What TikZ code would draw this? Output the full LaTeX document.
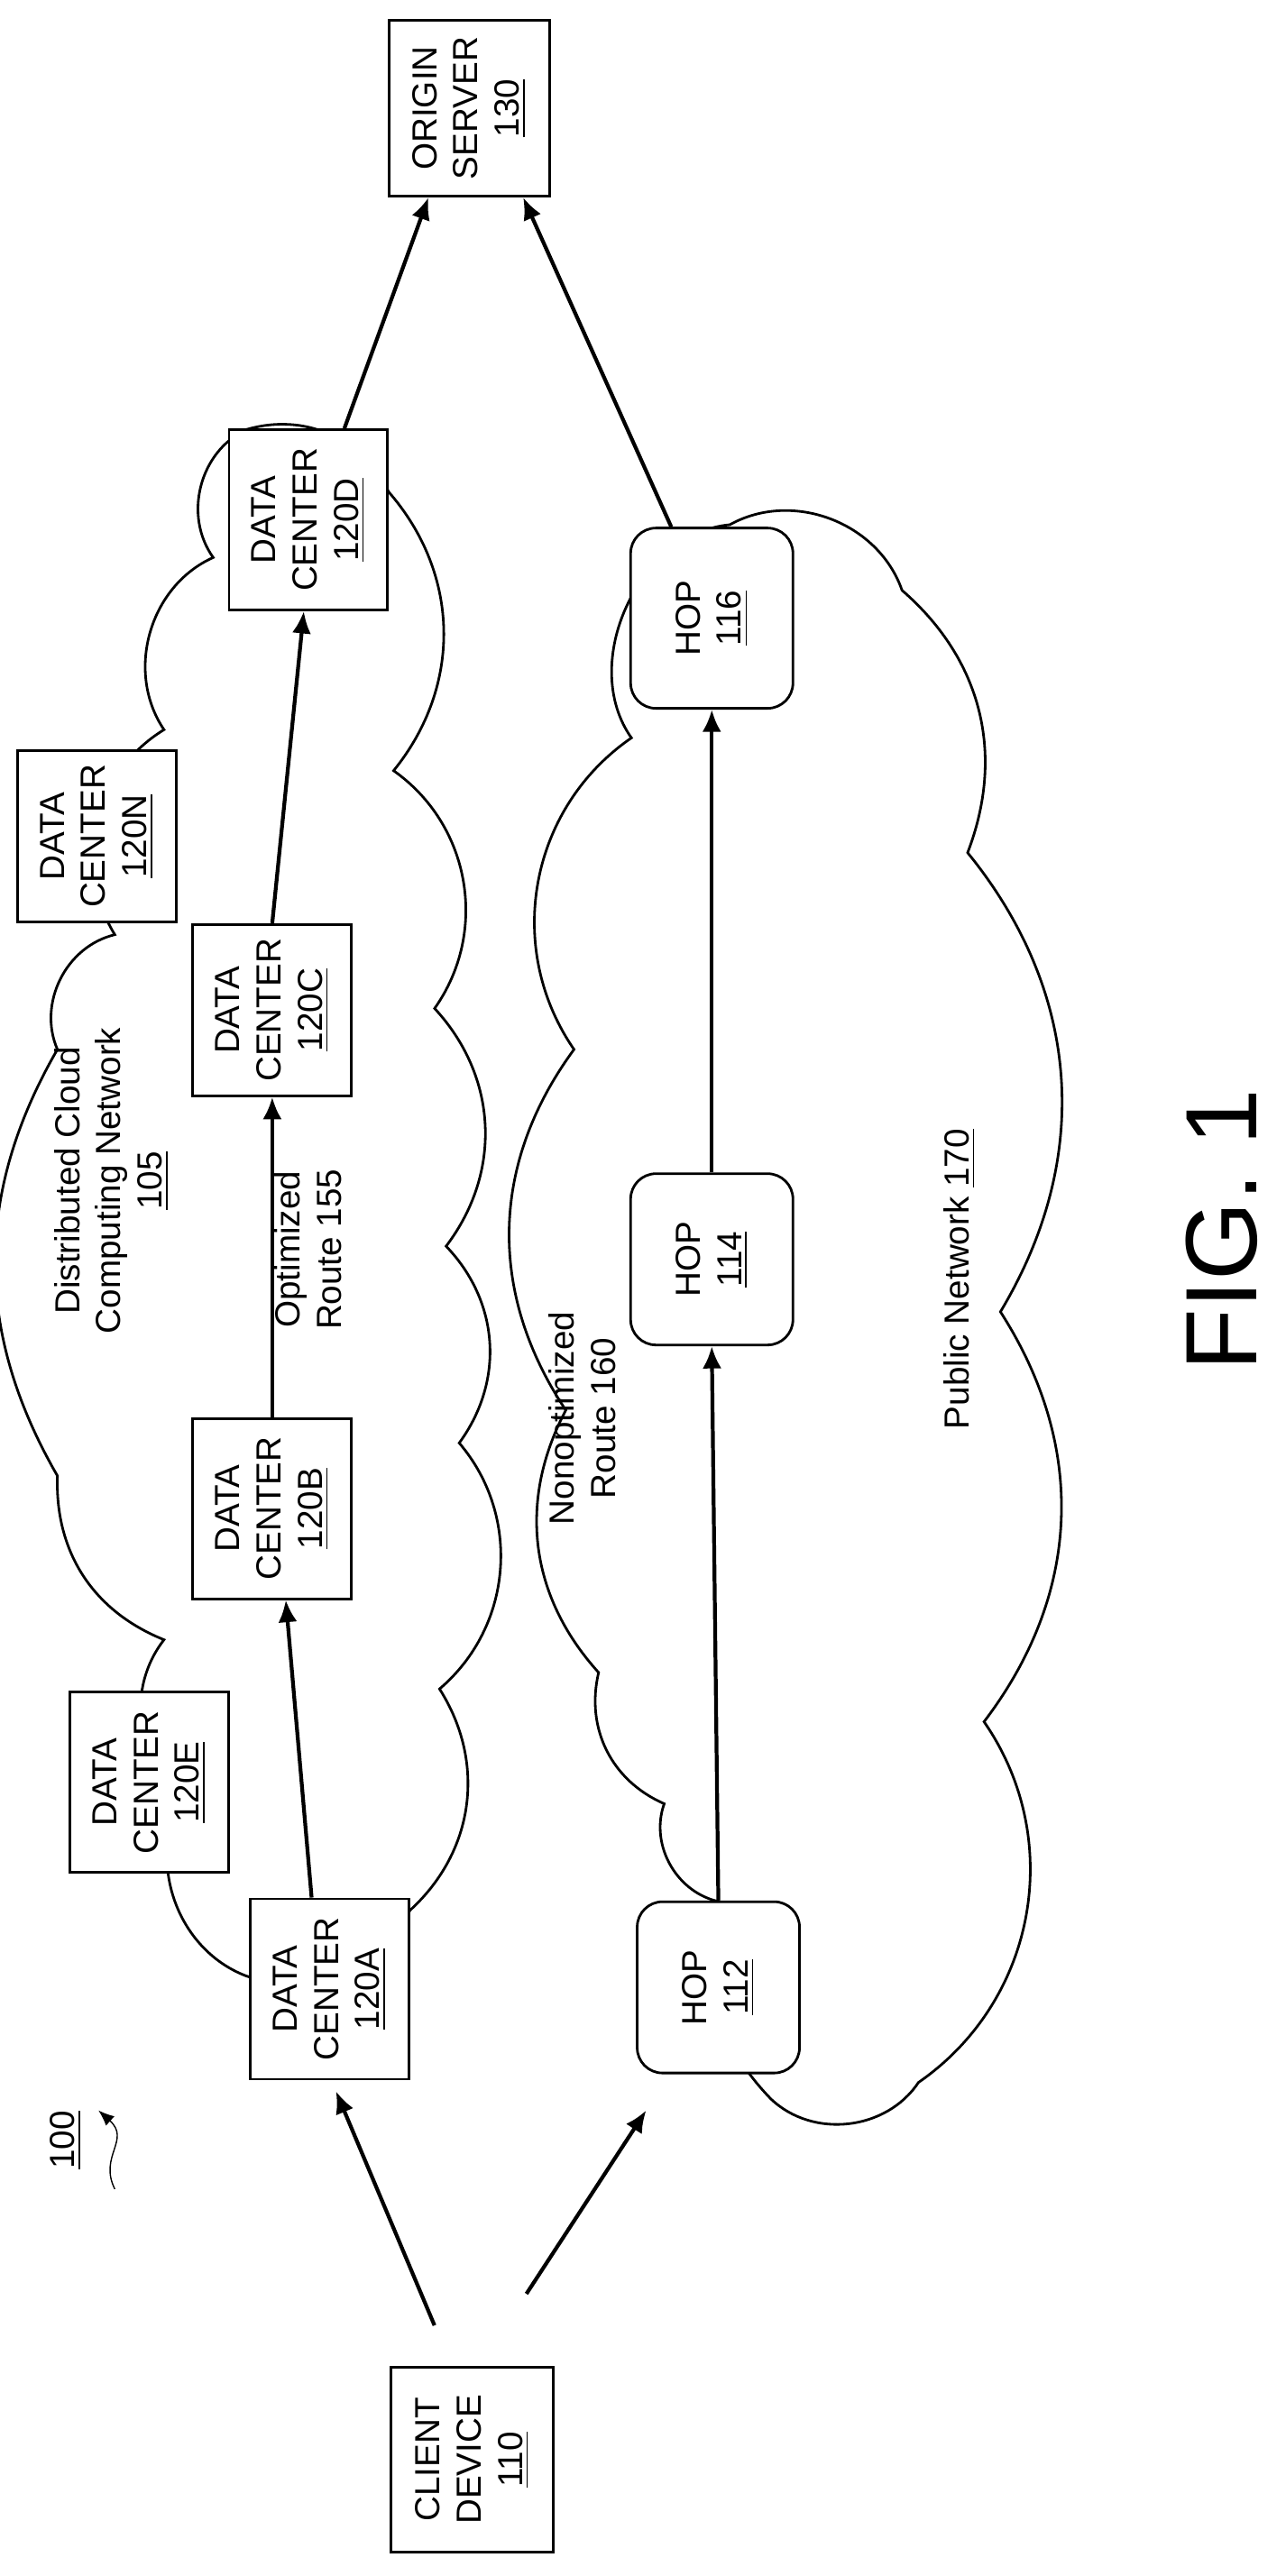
\documentclass[tikz,border=0pt]{standalone}
\usepackage{fontspec}
\setmainfont{Liberation Sans}
\usetikzlibrary{positioning,arrows.meta}
\tikzset{>=latex}
\tikzstyle{box}=[draw, thick, fill=white, rotate=90, align=center, font=\fontsize{11}{13}\selectfont, inner sep=2pt]
\tikzstyle{center}=[box, minimum width=2.0cm, minimum height=1.76cm]
\tikzstyle{hop}=[box, rounded corners=8pt, minimum width=1.9cm, minimum height=1.8cm]
\tikzstyle{connect arrow}=[-{Latex[length=7,width=6]},very thick]
\tikzstyle{label}=[rotate=90, align=center, font=\fontsize{11}{13}\selectfont]
\newcommand{\dc}[1]{DATA\\CENTER\\\underline{#1}}
\begin{document}
\begin{tikzpicture}[x=0.01819cm, y=-0.01819cm]
\useasboundingbox (0,0) rectangle (784,1571);

% clouds
\draw[thick] (150,1205) to[bend left=50] (112,1095) to[bend left=45] (100,1000)
  to[bend left=35] (35,900) to[bend left=30] (35,640) to[bend left=50] (70,570)
  to[bend left=45] (100,445) to[bend left=50] (130,340) to[bend left=50] (150,262)
  to[bend left=40] (237,300) to[bend left=40] (240,470) to[bend left=45] (265,615)
  to[bend left=40] (272,760) to[bend left=40] (280,880) to[bend left=45] (268,1030)
  to[bend left=40] (250,1165) to[bend left=40] (150,1205);
\draw[thick] (440,1160) to[bend left=50] (405,1100) to[bend left=40] (365,1020)
  to[bend left=35] (345,860) to[bend left=35] (350,640) to[bend left=45] (385,450)
  to[bend left=60] (445,320) to[bend left=50] (550,360) to[bend left=35] (590,520)
  to[bend left=35] (610,800) to[bend left=35] (600,1050) to[bend left=45] (560,1270)
  to[bend left=50] (470,1280) to[bend left=30] (440,1160);

% nodes
\node[box, minimum width=2.05cm, minimum height=1.8cm] (client) at (288,1500) {CLIENT\\DEVICE\\\underline{110}};
\node[box, minimum width=1.95cm, minimum height=1.78cm] (origin) at (286,66) {ORIGIN\\SERVER\\\underline{130}};
\node[center] (dcA) at (201,1213) {\dc{120A}};
\node[center] (dcE) at (91,1087) {\dc{120E}};
\node[center] (dcB) at (166,920) {\dc{120B}};
\node[center, minimum width=1.9cm] (dcN) at (59,510) {\dc{120N}};
\node[center, minimum width=1.9cm] (dcC) at (166,616) {\dc{120C}};
\node[center] (dcD) at (188,317) {\dc{120D}};
\node[hop] (hopA) at (438,1212) {HOP\\\underline{112}};
\node[hop] (hopB) at (434,768) {HOP\\\underline{114}};
\node[hop, minimum width=2.0cm] (hopC) at (434,377) {HOP\\\underline{116}};

% labels
\node[label] (cloudnet) at (68,720) {Distributed Cloud\\Computing Network\\\underline{105}};
\node[label] (optroute) at (188,762) {Optimized\\Route 155};
\node[label] (nonroute) at (355,865) {Nonoptimized\\Route 160};
\node[label] (pubnet) at (585,780) {Public Network \underline{170}};
\node[rotate=90, font=\fontsize{32}{36}\selectfont] (fig) at (745,750) {FIG. 1};
\node[label] (ref) at (40,1305) {\underline{100}};
\coordinate (refa) at (70,1335);
\coordinate (refb) at (60,1287);

% connectors (rotated boxes: east = top, west = bottom)
\begin{scope}[connect arrow]
\draw ([xshift=-0.42cm,yshift=0.45cm]client.east) -- ([xshift=0.07cm,yshift=-0.12cm]dcA.west);
\draw ([xshift=0.6cm,yshift=0.8cm]client.east) -- ([xshift=-0.8cm,yshift=-0.4cm]hopA.west);
\draw ([xshift=-0.2cm]dcA.east) -- ([xshift=0.15cm]dcB.west);
\draw (dcB.east) -- (dcC.west);
\draw (dcC.east) -- ([xshift=-0.05cm]dcD.west);
\draw ([xshift=0.4cm]dcD.east) -- ([xshift=-0.45cm]origin.west);
\draw (hopA.east) -- (hopB.west);
\draw (hopB.east) -- (hopC.west);
\draw ([xshift=-0.45cm]hopC.east) -- ([xshift=0.6cm]origin.west);
\end{scope}
\draw[-{Latex[length=5,width=4]}] (refa) .. controls (60,1315) and (80,1305) .. (refb);
\end{tikzpicture}
\end{document}
